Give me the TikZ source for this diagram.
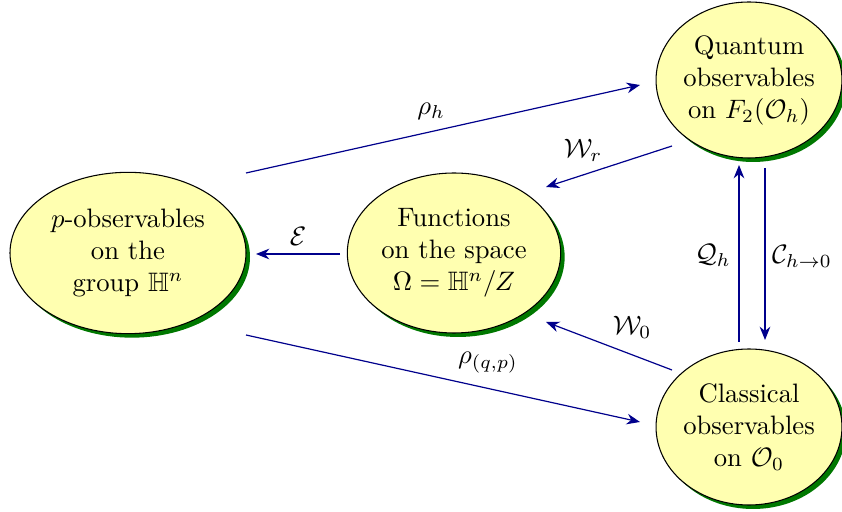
\documentclass[tikz,border=0pt]{standalone}
\usepackage{amsmath,amssymb}
\usetikzlibrary{shapes.geometric,shadows,arrows.meta}
\definecolor{ellfill}{RGB}{255,255,176}
\definecolor{shadowgreen}{RGB}{0,120,0}
\definecolor{arrnavy}{RGB}{0,0,140}
\begin{document}
\begin{tikzpicture}[x=0.375pt,y=-0.375pt,
  obs/.style={ellipse,draw=black,line width=0.4pt,fill=ellfill,inner sep=0pt,align=center,
    drop shadow={shadow xshift=1.5pt,shadow yshift=-1.5pt,fill=shadowgreen,opacity=1}},
  conn/.style={draw=arrnavy,line width=0.45pt,-{Stealth[length=5pt,width=4pt]}},
  lab/.style={inner sep=0pt}]
\useasboundingbox (0,0) rectangle (842,512);
\node[obs,minimum width=88.5pt,minimum height=60.5pt] (L) at (128,253) {$p$-observables\\on the\\group $\mathbb{H}^n$};
\node[obs,minimum width=80pt,minimum height=60pt] (M) at (454,253) {Functions\\on the space\\$\Omega=\mathbb{H}^n/Z$};
\node[obs,minimum width=67pt,minimum height=58.5pt] (Q) at (749,80) {Quantum\\observables\\on $F_2(\mathcal{O}_h)$};
\node[obs,minimum width=67pt,minimum height=58.5pt] (C) at (749,427) {Classical\\observables\\on $\mathcal{O}_0$};

\draw[conn] ([shift={(118,-80)}]L.center) -- node[lab,pos=.47,shift={(0,-20)}] (lrh) {$\rho_h$} ([shift={(-109,5)}]Q.center);
\draw[conn] ([shift={(-77,66)}]Q.center) -- node[lab,pos=.706,shift={(0,-25)}] (lwr) {$\mathcal{W}_r$} ([shift={(92,-66)}]M.center);
\draw[conn] ([shift={(-114,1)}]M.center) -- node[lab,pos=.5,shift={(0,-18)}] (le) {$\mathcal{E}$} ([shift={(128,1)}]L.center);
\draw[conn] ([shift={(-77,-57)}]C.center) -- node[lab,pos=.317,shift={(0,-27)}] (lw0) {$\mathcal{W}_0$} ([shift={(92,69)}]M.center);
\draw[conn] ([shift={(118,82)}]L.center) -- node[lab,pos=.614,shift={(0,-26)}] (lrqp) {$\rho_{(q,p)}$} ([shift={(-109,-5)}]C.center);
\draw[conn] ([shift={(-10,-85)}]C.center) -- node[lab,pos=.5,shift={(-26,2)}] (lqh) {$\mathcal{Q}_h$} ([shift={(-10,85)}]Q.center);
\draw[conn] ([shift={(16,88)}]Q.center) -- node[lab,pos=.5,shift={(37,2)}] (lch) {$\mathcal{C}_{h\to 0}$} ([shift={(16,-87)}]C.center);
\end{tikzpicture}
\end{document}
